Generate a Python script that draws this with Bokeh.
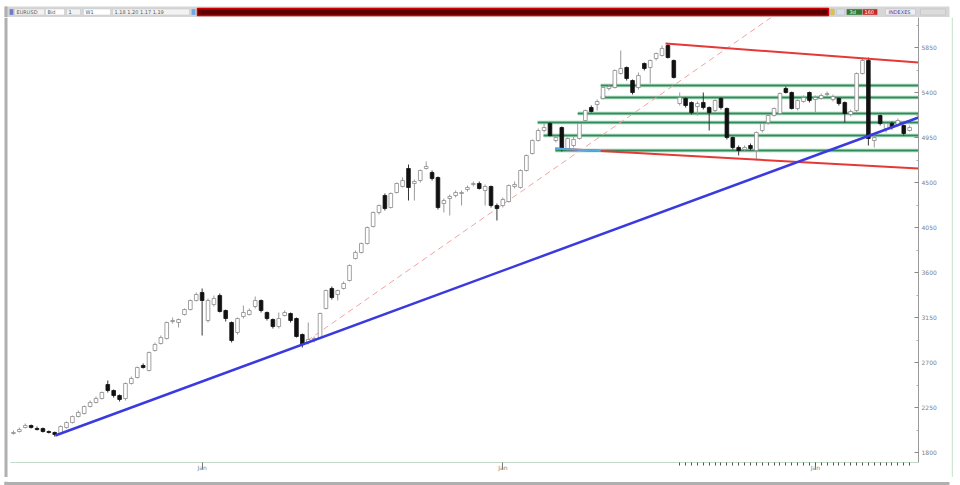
from bokeh.plotting import figure
from bokeh.layouts import column, row
from bokeh.models import ColumnDataSource, FixedTicker, Range1d
from bokeh.embed import file_html
from bokeh.resources import INLINE
from bokeh.core.properties import value

# ---------------- data (weekly candles, index = week number) ----------------
opens = [1990, 2010, 2050, 2070, 2040, 2040, 2010, 2000, 1990, 2050,
         2100, 2160, 2190, 2260, 2300, 2340, 2480, 2420, 2370, 2340,
         2490, 2550, 2670, 2620, 2820, 2890, 2940, 3110, 3100, 3180,
         3230, 3320, 3400, 3120, 3280, 3370, 3220, 3100, 3000, 3160,
         3180, 3260, 3320, 3200, 3130, 3060, 3170, 3190, 3140, 2980,
         2900, 2920, 2950, 3240, 3440, 3380, 3440, 3520, 3740, 3800,
         3890, 4060, 4200, 4370, 4250, 4400, 4460, 4640, 4490, 4520,
         4640, 4600, 4550, 4290, 4340, 4370, 4390, 4430, 4480, 4490,
         4420, 4460, 4270, 4270, 4310, 4460, 4450, 4620, 4790, 4920,
         5020, 5090, 4920, 5050, 4840, 4870, 4940, 5120, 5250, 5280,
         5340, 5440, 5450, 5590, 5650, 5520, 5450, 5690, 5650, 5740,
         5770, 5870, 5720, 5290, 5340, 5300, 5260, 5300, 5250, 5220,
         5340, 5240, 4950, 4850, 4830, 4870, 4820, 5020, 5100, 5170,
         5190, 5440, 5400, 5240, 5310, 5400, 5330, 5340, 5380, 5330,
         5340, 5300, 5180, 5220, 5590, 5720, 4920, 5170, 5040, 5090,
         5080, 5070, 5020]
highs = [2020, 2050, 2090, 2080, 2060, 2050, 2020, 2010, 2070, 2110,
         2170, 2220, 2270, 2320, 2360, 2410, 2520, 2430, 2380, 2500,
         2560, 2660, 2690, 2810, 2900, 2970, 3110, 3150, 3140, 3240,
         3330, 3400, 3440, 3340, 3370, 3390, 3230, 3110, 3150, 3270,
         3240, 3360, 3330, 3210, 3140, 3200, 3220, 3200, 3150, 2990,
         3100, 2960, 3200, 3430, 3460, 3430, 3510, 3680, 3820, 3900,
         4060, 4210, 4280, 4390, 4400, 4500, 4550, 4680, 4530, 4630,
         4710, 4620, 4560, 4340, 4380, 4420, 4420, 4470, 4510, 4510,
         4480, 4470, 4290, 4350, 4480, 4510, 4630, 4780, 4930, 5040,
         5090, 5100, 4970, 5060, 4950, 4960, 5100, 5230, 5270, 5330,
         5460, 5480, 5630, 5820, 5660, 5530, 5600, 5700, 5730, 5800,
         5870, 5890, 5730, 5400, 5350, 5310, 5310, 5400, 5260, 5330,
         5350, 5250, 4960, 4870, 4870, 4890, 5010, 5100, 5180, 5250,
         5400, 5460, 5410, 5330, 5370, 5410, 5370, 5390, 5410, 5380,
         5350, 5310, 5230, 5600, 5750, 5750, 4980, 5180, 5100, 5110,
         5140, 5080, 5070]
lows = [1980, 2000, 2040, 2040, 2020, 2000, 1990, 1960, 1980, 2040,
        2090, 2150, 2180, 2250, 2290, 2330, 2400, 2350, 2310, 2320,
        2480, 2540, 2640, 2610, 2810, 2880, 2930, 3090, 3050, 3170,
        3220, 3310, 2970, 3100, 3260, 3200, 3110, 2900, 2980, 3140,
        3170, 3240, 3200, 3120, 3040, 3040, 3160, 3100, 2950, 2850,
        2880, 2900, 2940, 3230, 3330, 3320, 3430, 3510, 3730, 3790,
        3880, 4050, 4180, 4220, 4240, 4390, 4450, 4320, 4320, 4500,
        4630, 4520, 4230, 4200, 4170, 4350, 4270, 4410, 4460, 4430,
        4270, 4250, 4120, 4250, 4300, 4440, 4440, 4610, 4780, 4910,
        5000, 4960, 4900, 4810, 4820, 4850, 4930, 5110, 5200, 5220,
        5330, 5420, 5440, 5580, 5520, 5380, 5430, 5620, 5490, 5720,
        5760, 5740, 5540, 5270, 5250, 5180, 5170, 5230, 5020, 5200,
        5230, 4930, 4830, 4770, 4810, 4820, 4720, 5000, 5080, 5160,
        5180, 5390, 5230, 5220, 5300, 5300, 5200, 5330, 5360, 5310,
        5270, 5100, 5160, 5200, 5580, 4870, 4850, 5070, 5000, 5030,
        5060, 4970, 5010]
closes = [2000, 2030, 2070, 2050, 2030, 2010, 2000, 1980, 2060, 2100,
          2160, 2200, 2260, 2300, 2340, 2400, 2420, 2370, 2330, 2490,
          2540, 2650, 2650, 2800, 2880, 2950, 3100, 3120, 3130, 3230,
          3320, 3380, 3320, 3320, 3340, 3210, 3140, 2920, 3140, 3200,
          3220, 3320, 3220, 3140, 3060, 3140, 3200, 3120, 2960, 2880,
          2930, 2940, 3190, 3420, 3350, 3420, 3490, 3670, 3800, 3890,
          4050, 4200, 4270, 4240, 4390, 4490, 4520, 4450, 4510, 4620,
          4660, 4540, 4250, 4320, 4360, 4400, 4400, 4450, 4490, 4440,
          4460, 4270, 4240, 4330, 4470, 4480, 4620, 4770, 4920, 5020,
          5050, 4970, 4950, 4840, 4940, 4930, 5090, 5220, 5210, 5310,
          5450, 5460, 5620, 5640, 5540, 5400, 5570, 5640, 5720, 5790,
          5840, 5750, 5550, 5350, 5270, 5200, 5290, 5250, 5200, 5320,
          5250, 4950, 4850, 4820, 4850, 4840, 5000, 5090, 5170, 5240,
          5390, 5400, 5240, 5320, 5350, 5320, 5350, 5370, 5390, 5360,
          5290, 5190, 5210, 5590, 5720, 4940, 4950, 5090, 5090, 5050,
          5120, 4990, 5050]

# drawn studies
blue_trend_x = [7.1, 153.5]
blue_trend_y = [1970, 5150]
dashed_x = [48.4, 128.5]
dashed_y = [2860, 6150]
red_upper_x = [110.6, 153.5]
red_upper_y = [5890, 5700]
red_lower_x = [91.9, 153.5]
red_lower_y = [4840, 4640]
cyan_seg_x = [91.9, 99.6]
cyan_seg_y = [4840, 4815]
green_levels = [5470, 5350, 5190, 5100, 4970, 4820]
green_starts = [99.6, 99.6, 95.7, 88.9, 89.9, 91.9]
green_end = 153.5

y_ticks = [1800, 2250, 2700, 3150, 3600, 4050, 4500, 4950, 5400, 5850]
y_minor = [2025, 2475, 2925, 3375, 3825, 4275, 4725, 5175, 5625, 6075]
x_ticks = [32, 83, 136]
x_tick_labels = ["Jan", "Jan", "Jan"]
x_minor = list(range(113, 153))

# ---------------- table for the library ----------------
n = len(opens)
xs = list(range(n))
up = [c >= o for o, c in zip(opens, closes)]
src = ColumnDataSource(dict(
    x=xs, open=opens, high=highs, low=lows, close=closes,
    top=[max(o, c) for o, c in zip(opens, closes)],
    bottom=[min(o, c) for o, c in zip(opens, closes)],
    fill=["#ffffff" if u else "#111111" for u in up],
    line=["#8a8a8a" if u else "#111111" for u in up],
    wick=["#9a9a9a" if u else "#333333" for u in up],
))

FONT = "DejaVu Sans"


def strip(w, h):
    f = figure(width=w, height=h, x_range=Range1d(0, w), y_range=Range1d(0, h),
               output_backend="svg", toolbar_location=None, min_border=0)
    f.frame_align = False
    f.axis.visible = False
    f.grid.visible = False
    f.outline_line_color = None
    f.background_fill_color = "#ffffff"
    f.border_fill_color = "#ffffff"
    return f


# ---------------- top toolbar strip (coords = page pixels, y up) ----------------
tb = strip(960, 17)
tb.quad(left=[4], right=[949], bottom=[0], top=[11], fill_color="#d6d6d6", line_color=None)
tb.quad(left=[4], right=[7], bottom=[0], top=[11], fill_color="#b0b0b0", line_color=None)
tb.quad(left=[9, 14, 45, 66, 83, 112, 191], right=[13, 44, 64, 80, 110, 189, 195],
        bottom=[2.5] * 7, top=[8.5] * 7,
        fill_color=["#6a7bd0", "#f2f2f2", "#ffffff", "#f2f2f2", "#ffffff", "#f2f2f2", "#6aa8e8"],
        line_color="#c4c4c4", line_width=0.5)
tb.text(x=[16, 47, 68, 85, 114], y=[5.5] * 5,
        text=["EURUSD", "Bid", "1", "W1", "1.18 1.20 1.17 1.19"],
        text_font=value(FONT), text_font_size="5px", text_color="#555",
        text_baseline="middle")
tb.quad(left=[197], right=[828], bottom=[2], top=[9],
        fill_color="#5c0000", line_color="#d40000", line_width=1.5)
tb.quad(left=[830, 836, 846, 862, 885, 920], right=[834, 844, 862, 877, 915, 945],
        bottom=[2.5] * 6, top=[8.5] * 6,
        fill_color=["#e8c030", "#d8e0f0", "#2e7d32", "#c62828", "#eef0f8", "#dcdcdc"],
        line_color="#bbbbbb", line_width=0.5)
tb.text(x=[849, 864, 888], y=[5.5] * 3, text=["3d", "160", "INDEXES"],
        text_font=value(FONT), text_font_size="5px",
        text_color=["#ffffff", "#ffffff", "#3340a0"], text_baseline="middle")

# ---------------- side and bottom window edges ----------------
ls = strip(8, 460)
ls.quad(left=[4], right=[7], bottom=[0], top=[460], fill_color="#b0b0b0", line_color=None)
rs = strip(9, 460)
rs.quad(left=[0], right=[1.5], bottom=[0], top=[460], fill_color="#cfe6d4", line_color=None)
bs = strip(960, 8)
bs.quad(left=[4], right=[949], bottom=[4.5], top=[7.5], fill_color="#b0b0b0", line_color=None)
bs.quad(left=[4], right=[7], bottom=[4.5], top=[8], fill_color="#b0b0b0", line_color=None)
bs.quad(left=[951], right=[952.5], bottom=[7.5], top=[8], fill_color="#cfe6d4", line_color=None)

# ---------------- main chart ----------------
p = figure(width=943, height=460, x_range=Range1d(-0.5, 153.5),
           y_range=Range1d(1700, 6150), y_axis_location="right",
           output_backend="svg", toolbar_location=None,
           min_border_left=2, min_border_right=33, min_border_top=0,
           min_border_bottom=15)
p.frame_align = False
p.grid.visible = False
p.background_fill_color = "#ffffff"
p.border_fill_color = "#ffffff"
p.outline_line_color = None

yax = p.yaxis[0]
yax.ticker = FixedTicker(ticks=y_ticks, minor_ticks=y_minor)
yax.axis_line_color = "#9a9a9a"
yax.major_tick_in = 4
yax.major_tick_out = 0
yax.minor_tick_in = 2
yax.minor_tick_out = 0
yax.major_tick_line_color = "#888"
yax.minor_tick_line_color = "#aaa"
yax.major_label_text_font = FONT
yax.major_label_text_font_size = "6px"
yax.major_label_text_color = "#808080"
yax.major_label_standoff = 3

xax = p.xaxis[0]
xax.ticker = FixedTicker(ticks=x_ticks, minor_ticks=x_minor)
xax.major_label_overrides = {t: s for t, s in zip(x_ticks, x_tick_labels)}
xax.axis_line_color = "#c4d8ca"
xax.major_tick_in = 0
xax.major_tick_out = 7
xax.minor_tick_in = 0
xax.minor_tick_out = 3
xax.major_tick_line_color = "#777"
xax.minor_tick_line_color = "#555"
xax.major_label_text_font = FONT
xax.major_label_text_font_size = "6px"
xax.major_label_text_color = "#808080"
xax.major_label_standoff = -6
xax.major_label_text_align = "left"

# horizontal support/resistance levels (under candles)
for lvl, st in zip(green_levels, green_starts):
    p.line([st, green_end], [lvl, lvl], line_color="#a9d8bd", line_width=4, line_alpha=0.6)
    p.line([st, green_end], [lvl, lvl], line_color="#2e8b5a", line_width=1.8)

# dashed trend
p.line(dashed_x, dashed_y, line_color="#f2a2a2", line_width=1, line_dash="6 4")

# candles
p.segment(x0="x", y0="high", x1="x", y1="low", color="wick", line_width=1, source=src)
p.vbar(x="x", width=0.62, top="top", bottom="bottom", fill_color="fill",
       line_color="line", line_width=0.8, source=src)

# channel and trend lines
p.line(red_upper_x, red_upper_y, line_color="#e53935", line_width=2)
p.line(red_lower_x, red_lower_y, line_color="#e53935", line_width=2)
p.line(cyan_seg_x, cyan_seg_y, line_color="#5aa8e8", line_width=2)
p.line(blue_trend_x, blue_trend_y, line_color="#3a3ae0", line_width=2.5)

layout = column(tb, row(ls, p, rs, spacing=0), bs, spacing=0)
open("out.html", "w").write(file_html(layout, INLINE))
